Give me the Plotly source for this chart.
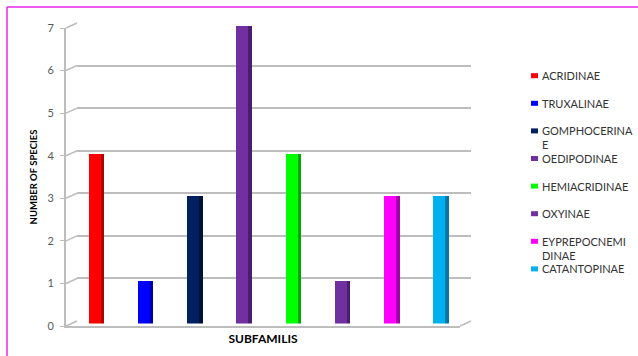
import plotly.graph_objects as go

# ---------------- data ----------------
categories = ["ACRIDINAE", "TRUXALINAE", "GOMPHOCERINAE", "OEDIPODINAE",
              "HEMIACRIDINAE", "OXYINAE", "EYPREPOCNEMIDINAE", "CATANTOPINAE"]
species_counts = [4, 1, 3, 7, 4, 1, 3, 3]
legend_labels = ["ACRIDINAE", "TRUXALINAE", "GOMPHOCERINA<br>E", "OEDIPODINAE",
                 "HEMIACRIDINAE", "OXYINAE", "EYPREPOCNEMI<br>DINAE", "CATANTOPINAE"]
front_colors = ["#FF0000", "#0000FF", "#002060", "#7030A0",
                "#00FF00", "#7030A0", "#FF00FF", "#00B0F0"]
side_colors = ["#B00000", "#0000A8", "#001238", "#4A1E6C",
               "#00A800", "#4A1E6C", "#A800A8", "#0078A8"]
y_ticks = [0, 1, 2, 3, 4, 5, 6, 7]
x_title = "SUBFAMILIS"
y_title = "NUMBER OF SPECIES"

# ---------------- geometry ----------------
W, H = 638, 356
ML, MR, MT, MB = 66, 167, 23, 30
PW = W - ML - MR
PH = H - MT - MB
DX, DY = 11, 5           # pseudo-3D depth offset (px)
YMAX = max(y_ticks)
FONT = "Lato, Carlito, Calibri, sans-serif"
GRID = "#bdbdbd"


def px(x):
    return (x - ML) / PW


def py(y):
    return (H - MB - y) / PH


cat_px = (PW - DX) / len(categories)   # pixels per category
front_off, front_w = -8 / cat_px, 12 / cat_px
side_off, side_w = 4 / cat_px, 3.5 / cat_px

fig = go.Figure()

# empty traces so the wall / front subplots exist
fig.add_trace(go.Scatter(x=[], y=[], xaxis="x", yaxis="y", showlegend=False, hoverinfo="skip"))

for name, val, fc, sc in zip(categories, species_counts, front_colors, side_colors):
    fig.add_trace(go.Bar(x=[name], y=[val], xaxis="x2", yaxis="y2", width=front_w,
                         offset=front_off, marker=dict(color=fc, line=dict(width=0)),
                         name=name, showlegend=False))
    fig.add_trace(go.Bar(x=[name], y=[val], xaxis="x2", yaxis="y2", width=side_w,
                         offset=side_off, marker=dict(color=sc, line=dict(width=0)),
                         name=name, showlegend=False, hoverinfo="skip"))

fig.add_trace(go.Scatter(x=[], y=[], xaxis="x3", yaxis="y3", showlegend=False, hoverinfo="skip"))

shapes = []
# depth connectors for each grid level
fh = (PH - DY) / PH
for v in y_ticks:
    fy = v / YMAX * fh
    shapes.append(dict(type="line", xref="paper", yref="paper", x0=0, x1=DX / PW,
                       y0=fy, y1=fy + DY / PH, line=dict(color=GRID, width=1.6), layer="below"))
# floor right edge
shapes.append(dict(type="line", xref="paper", yref="paper", x0=(PW - DX) / PW, x1=1,
                   y0=0, y1=DY / PH, line=dict(color=GRID, width=1.6), layer="below"))

# legend (manual, to match spacing)
annotations = []
for i, (lab, col) in enumerate(zip(legend_labels, front_colors)):
    c = 75.7 + 27.6 * i
    shapes.append(dict(type="rect", xref="paper", yref="paper", x0=px(531), x1=px(538),
                       y0=py(c + 2.5), y1=py(c - 2.5), fillcolor=col, line=dict(width=0)))
    nlines = lab.count("<br>") + 1
    annotations.append(dict(text=lab, xref="paper", yref="paper", x=px(539.5),
                            y=py(c + 7 * (nlines - 1)), xanchor="left", yanchor="middle",
                            showarrow=False, align="left",
                            font=dict(family=FONT, size=11, color="#333333")))

# magenta frame
shapes.append(dict(type="line", xref="paper", yref="paper", x0=px(7), x1=px(7),
                   y0=py(7), y1=py(362), line=dict(color="#E825E8", width=1.5)))
shapes.append(dict(type="line", xref="paper", yref="paper", x0=px(7), x1=px(650),
                   y0=py(7), y1=py(7), line=dict(color="#E825E8", width=1.5)))

fig.update_layout(
    width=W, height=H, autosize=False,
    margin=dict(l=ML, r=MR, t=MT, b=MB),
    paper_bgcolor="white", plot_bgcolor="rgba(0,0,0,0)",
    barmode="overlay", bargap=0,
    showlegend=False,
    font=dict(family=FONT),
    # back wall (gridlines)
    xaxis=dict(domain=[DX / PW, 1], anchor="y", range=[0, 1], visible=False),
    yaxis=dict(domain=[DY / PH, 1], anchor="x", range=[0, YMAX], tickvals=y_ticks,
               showgrid=True, gridcolor=GRID, gridwidth=1.6, showticklabels=False,
               ticks="", zeroline=False, showline=False),
    # bars (mid depth)
    xaxis2=dict(domain=[DX / 2 / PW, 1 - DX / 2 / PW], anchor="y2", type="category",
                categoryorder="array", categoryarray=categories,
                range=[-0.5, len(categories) - 0.5], visible=False),
    yaxis2=dict(domain=[DY / 2 / PH, 1 - DY / 2 / PH], anchor="x2", range=[0, YMAX],
                visible=False),
    # front axes
    xaxis3=dict(domain=[0, (PW - DX) / PW], anchor="y3", range=[0, 1], showline=True,
                linecolor=GRID, linewidth=1.6, showticklabels=False, ticks="",
                showgrid=False, zeroline=False,
                title=dict(text=x_title, standoff=8,
                           font=dict(family=FONT, size=12, color="#000000", weight="bold"))),
    yaxis3=dict(domain=[0, (PH - DY) / PH], anchor="x3", range=[0, YMAX], tickvals=y_ticks,
                showline=True, linecolor=GRID, linewidth=1.6, ticks="outside", ticklen=4,
                tickcolor=GRID, showgrid=False, zeroline=False, ticklabelstandoff=4,
                tickfont=dict(family=FONT, size=11, color="#595959"),
                title=dict(text=y_title, standoff=8,
                           font=dict(family=FONT, size=9.5, color="#000000", weight="bold"))),
    shapes=shapes,
    annotations=annotations,
)

fig.write_html("out.html")
